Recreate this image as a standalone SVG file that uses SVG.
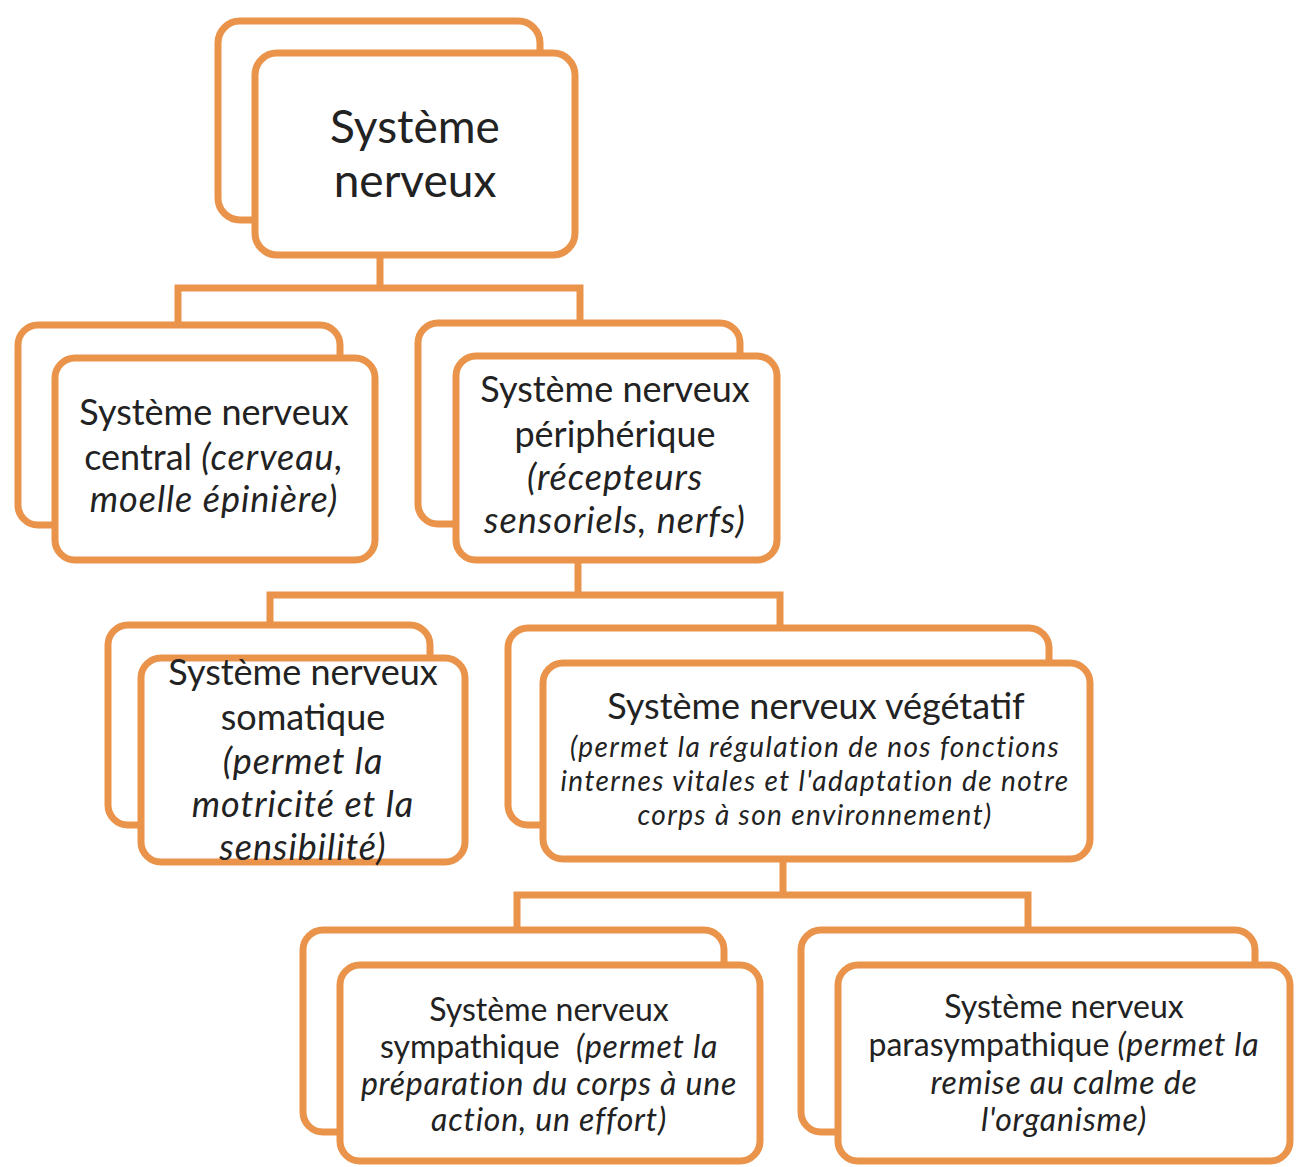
<svg xmlns="http://www.w3.org/2000/svg" width="1296" height="1167" viewBox="0 0 1296 1167">
<style>
.b{fill:#fff;stroke:#EA944B;stroke-width:7}
.c{fill:none;stroke:#EA944B;stroke-width:7;stroke-linejoin:miter}
text{font-family:Lato,"Open Sans",sans-serif;fill:#222;text-anchor:middle}
.i{font-style:italic;letter-spacing:1px}
.v .i{letter-spacing:1.4px}
.s .i{letter-spacing:0.8px}
</style>
<rect width="1296" height="1167" fill="#fff"/>
<g id="connectors">
<path class="c" d="M380,258 V288 M178,322 V288 H580 V320"/>
<path class="c" d="M578,563 V595 M270,622 V595 H780 V625"/>
<path class="c" d="M783,862 V895 M517,927 V895 H1028 V927"/>
</g>
<g id="root">
<rect class="b" x="218" y="21" width="322" height="199" rx="22"/>
<rect class="b" x="255" y="53" width="320" height="202" rx="22"/>
<text font-size="46"><tspan x="415" y="143">Système</tspan><tspan x="415" y="197">nerveux</tspan></text>
</g>
<g id="central">
<rect class="b" x="18" y="325" width="322" height="200" rx="20"/>
<rect class="b" x="55" y="358" width="320" height="202" rx="20"/>
<text font-size="36"><tspan x="214" y="425">Système nerveux</tspan><tspan x="214" y="470">central <tspan class="i">(cerveau,</tspan></tspan><tspan x="214" y="512" class="i">moelle épinière)</tspan></text>
</g>
<g id="peripherique">
<rect class="b" x="418" y="323" width="322" height="201" rx="20"/>
<rect class="b" x="456" y="356" width="321" height="204" rx="20"/>
<text font-size="36"><tspan x="615" y="402">Système nerveux</tspan><tspan x="615" y="447">périphérique</tspan><tspan x="615" y="490" class="i">(récepteurs</tspan><tspan x="615" y="533" class="i">sensoriels, nerfs)</tspan></text>
</g>
<g id="somatique">
<rect class="b" x="108" y="625" width="322" height="200" rx="20"/>
<rect class="b" x="141" y="658" width="324" height="204" rx="20"/>
<text font-size="36"><tspan x="303" y="685">Système nerveux</tspan><tspan x="303" y="730">somatique</tspan><tspan x="303" y="774" class="i">(permet la</tspan><tspan x="303" y="817" class="i">motricité et la</tspan><tspan x="303" y="860" class="i">sensibilité)</tspan></text>
</g>
<g id="vegetatif" class="v">
<rect class="b" x="508" y="628" width="541" height="197" rx="20"/>
<rect class="b" x="543" y="663" width="547" height="196" rx="20"/>
<text font-size="36" x="816" y="719">Système nerveux végétatif</text>
<text font-size="28" class="i"><tspan x="815" y="757">(permet la régulation de nos fonctions</tspan><tspan x="815" y="791">internes vitales et l'adaptation  de notre</tspan><tspan x="815" y="825">corps à son environnement)</tspan></text>
</g>
<g id="sympathique" class="s">
<rect class="b" x="303" y="930" width="421" height="202" rx="20"/>
<rect class="b" x="340" y="965" width="420" height="196" rx="20"/>
<text font-size="32"><tspan x="549" y="1021">Système nerveux</tspan><tspan x="549" y="1058" xml:space="preserve">sympathique  <tspan class="i">(permet la</tspan></tspan><tspan x="549" y="1095" class="i">préparation du corps à une</tspan><tspan x="549" y="1131" class="i">action, un effort)</tspan></text>
</g>
<g id="parasympathique" class="s">
<rect class="b" x="801" y="930" width="454" height="202" rx="20"/>
<rect class="b" x="838" y="965" width="452" height="196" rx="20"/>
<text font-size="32"><tspan x="1064" y="1018">Système nerveux</tspan><tspan x="1064" y="1056">parasympathique <tspan class="i">(permet la</tspan></tspan><tspan x="1064" y="1094" class="i">remise au calme de</tspan><tspan x="1064" y="1131" class="i">l'organisme)</tspan></text>
</g>
</svg>
